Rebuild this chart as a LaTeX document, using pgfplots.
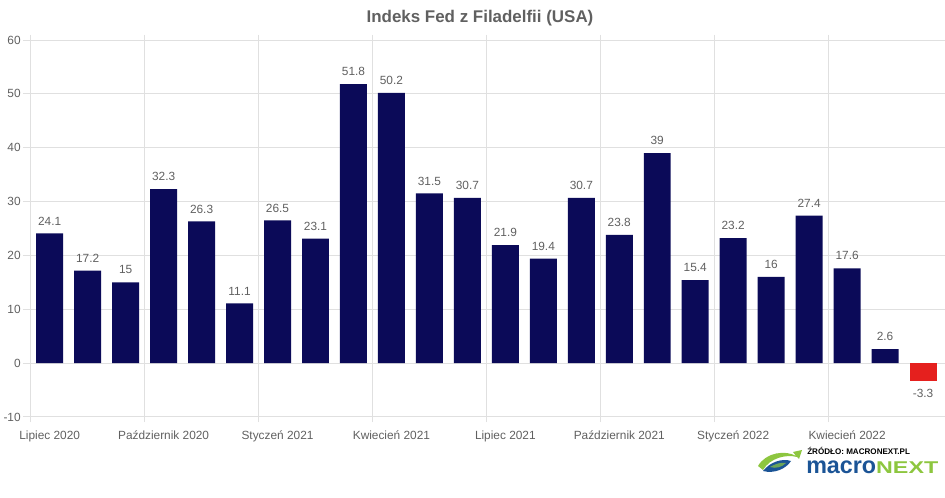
\documentclass[border=0pt]{standalone}
\usepackage{pgfplots}
\pgfplotsset{compat=1.18}
\usepackage{fontspec}
\setmainfont{Liberation Sans}
\usepackage{graphicx}
\definecolor{navybar}{RGB}{11,10,88}
\definecolor{redbar}{RGB}{229,32,30}
\definecolor{gridgray}{RGB}{224,224,224}
\definecolor{txtgray}{RGB}{96,96,96}
\definecolor{logoblue}{RGB}{27,84,150}
\definecolor{logogreen}{RGB}{141,198,63}
\begin{document}
\begin{tikzpicture}
\begin{axis}[
  at={(0,0)}, anchor=south west,
  scale only axis,
  width=683.5pt, height=282.75pt,
  xmin=-0.5, xmax=23.5,
  ymin=-10, ymax=60,
  ytick={-10,0,...,60},
  xtick={0,3,...,21},
  xticklabels={Lipiec 2020, Październik 2020, Styczeń 2021, Kwiecień 2021, Lipiec 2021, Październik 2021, Styczeń 2022, Kwiecień 2022},
  axis line style={draw=none},
  ymajorgrids,
  major grid style={draw=gridgray, line width=0.75pt},
  tick align=outside,
  major tick length=6pt,
  ytick style={draw=gridgray, line width=0.75pt},
  xtick style={draw=none},
  extra x ticks={-0.5,2.5,...,20.5},
  extra x tick labels={},
  extra x tick style={grid=major, xtick style={draw=gridgray, line width=0.75pt}, major tick length=4pt},
  /pgf/number format/assume math mode=true,
  tick label style={font=\fontsize{8.9}{10}\selectfont, text=txtgray},
  yticklabel style={anchor=east, inner sep=0pt, xshift=-1.3pt},
  xticklabel style={anchor=north, inner sep=0pt, yshift=-4.5pt},
  nodes near coords,
  every node near coord/.append style={font=\fontsize{8.9}{10}\selectfont, text=txtgray, inner xsep=0pt, inner ysep=6pt},
  clip=false,
]
\addplot[ybar, bar shift=0pt, bar width=0.71, fill=navybar, draw=none] coordinates {
(0,24.1)(1,17.2)(2,15)(3,32.3)(4,26.3)(5,11.1)(6,26.5)(7,23.1)(8,51.8)(9,50.2)(10,31.5)(11,30.7)(12,21.9)(13,19.4)(14,30.7)(15,23.8)(16,39)(17,15.4)(18,23.2)(19,16)(20,27.4)(21,17.6)(22,2.6)
};
\addplot[ybar, bar shift=0pt, bar width=0.71, fill=redbar, draw=none] coordinates {
(23,-3.3)
};
\end{axis}
\begin{scope}[x=0.75pt, y=-0.75pt, shift={(-23.025pt,312.75pt)}]
  \node[font=\bfseries\fontsize{12.7}{14}\selectfont, text=txtgray] at (480,18.5) {Indeks Fed z Filadelfii (USA)};
  % logo icon
  \fill[logogreen] (758,466) .. controls (766,452) and (786,450) .. (796,456) -- (793,452) -- (802,450) -- (799,459) -- (797,457) .. controls (786,454) and (770,458) .. (763,470) -- cycle;
  \fill[logoblue] (763,471) .. controls (770,462) and (782,458) .. (791,461) .. controls (786,469) and (774,474) .. (763,471) -- cycle;
  \fill[logogreen!70!logoblue] (770,467) .. controls (775,464) and (781,462) .. (786,463) .. controls (782,467) and (776,469) .. (770,467) -- cycle;
  \node[anchor=north west, inner sep=0pt] at (807,447) {\resizebox{77pt}{5.4pt}{\bfseries ŹRÓDŁO: MACRONEXT.PL}};
  \node[anchor=north west, inner sep=0pt] at (806,461) {\resizebox{99pt}{9.5pt}{\bfseries\textcolor{logoblue}{\scalebox{1}[1.38]{macro}}\textcolor{logogreen}{NEXT}}};
\end{scope}
\pgfresetboundingbox
\begin{scope}[x=0.75pt, y=-0.75pt, shift={(-23.025pt,312.75pt)}]
  \path (0,0) rectangle (945,498);
\end{scope}
\end{tikzpicture}
\end{document}
